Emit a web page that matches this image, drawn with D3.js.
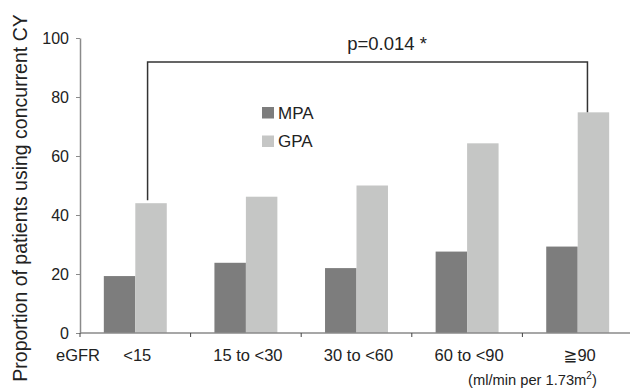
<!DOCTYPE html>
<html>
<head>
<meta charset="utf-8">
<script src="https://cdn.jsdelivr.net/npm/d3@7"></script>
<style>
  body { margin: 0; background: #fff; }
  svg { font-family: "Liberation Sans", Arial, "DejaVu Sans", sans-serif; }
</style>
</head>
<body>
<svg id="chart" width="630" height="391"></svg>
<script>
// data
const categories = ['<15', '15 to <30', '30 to <60', '60 to <90', '\u226790'];
const seriesNames = ['MPA', 'GPA'];
const mpaValues = [19.3, 23.8, 22.0, 27.6, 29.3];
const gpaValues = [44.0, 46.2, 50.0, 64.3, 74.8];
const yTicks = [0, 20, 40, 60, 80, 100];
const pLabel = 'p=0.014 *';

const colors = { MPA: '#7d7d7d', GPA: '#c5c6c5' };

const margins = { left: 80, top: 38, right: -3, bottom: 58 };
const width = 630;
const height = 391;

const svg = d3.select('#chart');

const rows = categories.map((c, i) => ({ cat: c, MPA: mpaValues[i], GPA: gpaValues[i] }));

// scales
const x0 = d3.scaleBand()
  .domain(categories)
  .range([margins.left, width - margins.right])
  .padding(0);

const x1 = d3.scaleBand()
  .domain(seriesNames)
  .range([0, x0.bandwidth()])
  .paddingInner(0)
  .paddingOuter(0.757);

const y = d3.scaleLinear()
  .domain([0, 100])
  .range([height - margins.bottom, margins.top]);

// bars
const groups = svg.append('g')
  .attr('class', 'dataContainer')
  .selectAll('g')
  .data(rows)
  .enter()
  .append('g')
  .attr('transform', (d) => `translate(${x0(d.cat)},0)`);

groups.selectAll('rect')
  .data((d) => seriesNames.map((s) => ({ key: s, value: d[s] })))
  .enter()
  .append('rect')
  .attr('x', (d) => x1(d.key))
  .attr('width', x1.bandwidth())
  .attr('y', (d) => y(d.value))
  .attr('height', (d) => y(0) - y(d.value))
  .style('fill', (d) => colors[d.key]);

// y axis
const yAxis = d3.axisLeft(y)
  .tickValues(yTicks)
  .tickSizeOuter(0)
  .tickSizeInner(4)
  .tickPadding(7);

const yAxisContainer = svg.append('g')
  .attr('transform', `translate(${margins.left},0)`)
  .call(yAxis);

yAxisContainer.select('.domain').style('stroke', '#8a8a8a').style('stroke-width', 1.5);
yAxisContainer.selectAll('.tick line').style('stroke', '#8a8a8a');
yAxisContainer.selectAll('.tick text')
  .style('font-size', '16px')
  .style('fill', '#222');

// x axis: baseline with ticks on group boundaries
const xAxisContainer = svg.append('g').attr('class', 'xAxisContainer');

xAxisContainer.append('line')
  .attr('x1', margins.left)
  .attr('x2', width)
  .attr('y1', y(0))
  .attr('y2', y(0))
  .style('stroke', '#8a8a8a')
  .style('stroke-width', 1.5);

xAxisContainer.selectAll('line.tick')
  .data(categories)
  .enter()
  .append('line')
  .attr('class', 'tick')
  .attr('x1', (d) => x0(d))
  .attr('x2', (d) => x0(d))
  .attr('y1', y(0))
  .attr('y2', y(0) + 4)
  .style('stroke', '#444');

xAxisContainer.selectAll('text.cat')
  .data(categories)
  .enter()
  .append('text')
  .attr('class', 'cat')
  .attr('x', (d) => x0(d) + x0.bandwidth() / 2 + 2)
  .attr('y', 361)
  .style('text-anchor', 'middle')
  .style('font-size', '16.5px')
  .style('fill', '#222')
  .text((d) => d);

xAxisContainer.append('text')
  .attr('x', 56)
  .attr('y', 361)
  .style('font-size', '16.5px')
  .style('fill', '#222')
  .text('eGFR');

const unit = xAxisContainer.append('text')
  .attr('x', 468)
  .attr('y', 385)
  .style('font-size', '14.7px')
  .style('fill', '#222');
unit.append('tspan').text('(ml/min per 1.73m');
unit.append('tspan').attr('dy', -6).style('font-size', '10px').text('2');
unit.append('tspan').attr('dy', 6).text(')');

// y label
svg.append('text')
  .attr('transform', `translate(27, 198) rotate(-90)`)
  .style('text-anchor', 'middle')
  .style('font-size', '19.5px')
  .style('fill', '#222')
  .text('Proportion of patients using concurrent CY');

// legend
const legend = svg.append('g')
  .attr('transform', 'translate(262, 107)');

const legendItems = legend.selectAll('g')
  .data(seriesNames)
  .enter()
  .append('g')
  .attr('transform', (d, i) => `translate(0, ${i * 28.5})`);

legendItems.append('rect')
  .attr('width', 12)
  .attr('height', 11.5)
  .style('fill', (d) => colors[d]);

legendItems.append('text')
  .attr('x', 16)
  .attr('y', 11.5)
  .style('font-size', '17px')
  .style('fill', '#222')
  .text((d) => d);

// significance bracket between GPA <15 and GPA >=90
const first = categories[0];
const last = categories[categories.length - 1];
const legX = (c, f) => x0(c) + x1('GPA') + x1.bandwidth() * f;
const bracketY = 62;
const leftX = legX(first, 0.39);
const rightX = legX(last, 0.31);

svg.append('path')
  .attr('d', `M${leftX},${y(gpaValues[0]) - 3}V${bracketY}H${rightX}V${y(gpaValues[4])}`)
  .style('fill', 'none')
  .style('stroke', '#333')
  .style('stroke-width', 1.5);

svg.append('text')
  .attr('x', 387)
  .attr('y', 50)
  .style('text-anchor', 'middle')
  .style('font-size', '18.5px')
  .style('fill', '#222')
  .text(pLabel);
</script>
</body>
</html>
